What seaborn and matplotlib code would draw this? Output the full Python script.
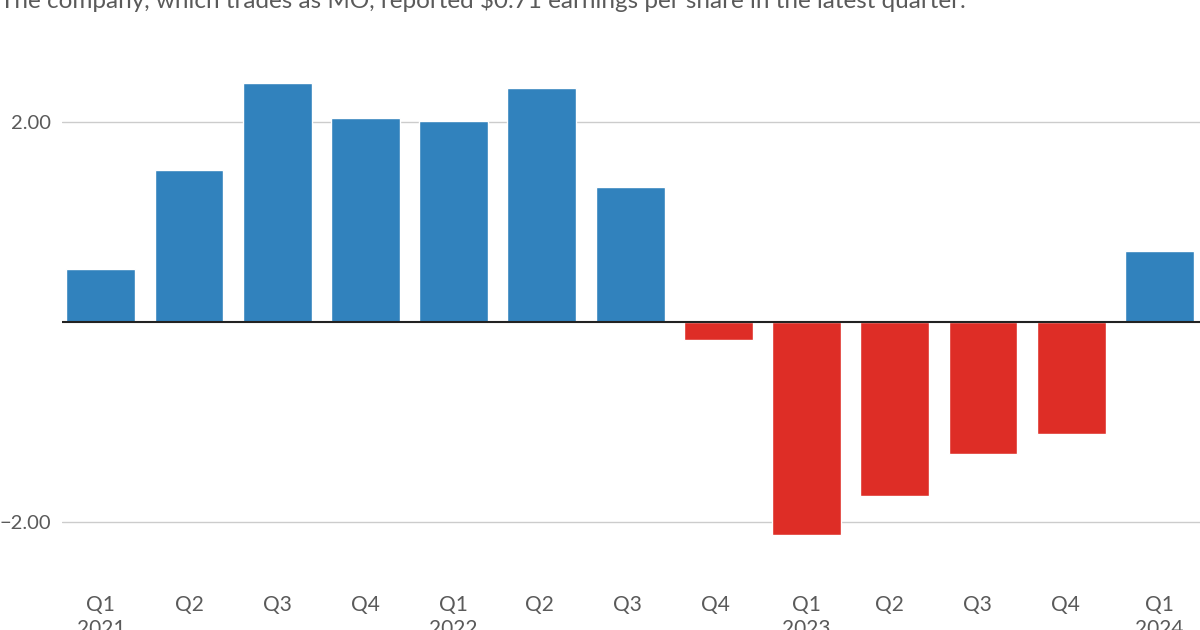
import matplotlib
matplotlib.use("Agg")
import matplotlib.pyplot as plt
import seaborn as sns
import pandas as pd

quarters = ["Q1\n2021", "Q2", "Q3", "Q4", "Q1\n2022", "Q2 ", "Q3 ", "Q4 ",
            "Q1\n2023", "Q2  ", "Q3  ", "Q4  ", "Q1\n2024"]
eps = [0.53, 1.52, 2.39, 2.04, 2.01, 2.34, 1.35, -0.18, -2.13, -1.74, -1.32, -1.12, 0.71]
subtitle = "The company, which trades as MO, reported $0.71 earnings per share in the latest quarter."

BLUE = "#3182bd"
RED = "#de2d26"

sns.set_theme(style="white")
plt.rcParams['font.family'] = ['Lato', 'DejaVu Sans']

df = pd.DataFrame({"quarter": quarters, "eps": eps})
df["sign"] = ["pos" if v >= 0 else "neg" for v in eps]

fig = plt.figure(figsize=(12, 6.3), dpi=100)
ax = fig.add_axes([62/1200, (630-560)/630, (1200-62)/1200, (560-40)/630])

sns.barplot(data=df, x="quarter", y="eps", hue="sign", order=quarters,
            palette={"pos": BLUE, "neg": RED}, width=0.78, dodge=False,
            legend=False, ax=ax, saturation=1)

ax.set_xlim(-0.44, 12.46)
ax.set_ylim(-2.38, 2.82)
ax.set_yticks([-2, 2])
ax.set_yticklabels(["\u22122.00", "2.00"])
ax.yaxis.grid(True, color="#cccccc", linewidth=1)
ax.set_axisbelow(True)
ax.axhline(0, color="#222222", linewidth=1.5, zorder=5)
for s in ax.spines.values():
    s.set_visible(False)
ax.set_xlabel("")
ax.set_ylabel("")
ax.tick_params(axis="y", length=0, pad=8, labelsize=14.5, labelcolor="#5a5a5a")
ax.tick_params(axis="x", length=0, pad=25, labelsize=15, labelcolor="#5a5a5a")
for lbl in ax.get_xticklabels():
    lbl.set_verticalalignment("top")
    lbl.set_linespacing(1.25)

fig.text(0.0, 1.0, subtitle, ha="left", va="center", fontsize=17.5,
         color="#5a5a5a")

fig.savefig("out.png", dpi=100)
